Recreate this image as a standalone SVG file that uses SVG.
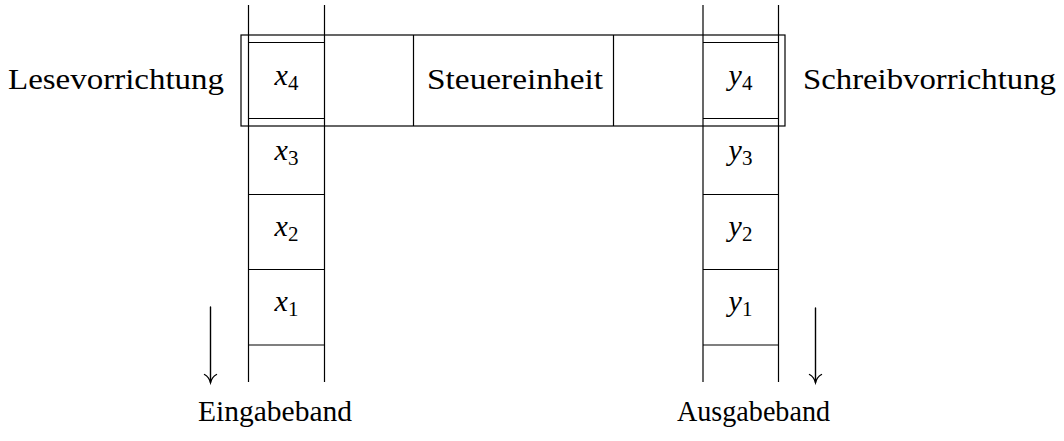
<svg xmlns="http://www.w3.org/2000/svg" width="1064" height="441" viewBox="0 0 1064 441">
<style>
.ln{stroke:#000;stroke-width:1.2;fill:none}
.t{font-family:'Liberation Serif','LiberationSerif','Times New Roman',Times,'DejaVu Serif','Noto Serif',serif;font-size:30px;fill:#000}
.m{font-family:'Liberation Serif','LiberationSerif','Times New Roman',Times,'DejaVu Serif','Noto Serif',serif;font-size:30px;fill:#000;text-anchor:middle}
.i{font-style:italic}
.s{font-size:21px;font-style:normal}
.ar{stroke:#000;stroke-width:1.4;fill:none;stroke-linecap:round}
</style>
<rect width="1064" height="441" fill="#fff"/>
<g id="tapes">
  <g id="eingabeband">
    <line class="ln" x1="248.5" y1="5" x2="248.5" y2="382"/>
    <line class="ln" x1="324.5" y1="5" x2="324.5" y2="382"/>
    <line class="ln" x1="248.5" y1="42.5" x2="324.5" y2="42.5"/>
    <line class="ln" x1="248.5" y1="118.5" x2="324.5" y2="118.5"/>
    <line class="ln" x1="248.5" y1="194.5" x2="324.5" y2="194.5"/>
    <line class="ln" x1="248.5" y1="269.5" x2="324.5" y2="269.5"/>
    <line class="ln" x1="248.5" y1="345" x2="324.5" y2="345"/>
  </g>
  <g id="ausgabeband">
    <line class="ln" x1="703" y1="5" x2="703" y2="382"/>
    <line class="ln" x1="778.5" y1="5" x2="778.5" y2="382"/>
    <line class="ln" x1="703" y1="42.5" x2="778.5" y2="42.5"/>
    <line class="ln" x1="703" y1="118.5" x2="778.5" y2="118.5"/>
    <line class="ln" x1="703" y1="194.5" x2="778.5" y2="194.5"/>
    <line class="ln" x1="703" y1="269.5" x2="778.5" y2="269.5"/>
    <line class="ln" x1="703" y1="345" x2="778.5" y2="345"/>
  </g>
</g>
<g id="steuereinheit">
  <rect class="ln" x="241" y="35" width="544" height="91"/>
  <line class="ln" x1="413.5" y1="35" x2="413.5" y2="126"/>
  <line class="ln" x1="613.5" y1="35" x2="613.5" y2="126"/>
  <text class="t" x="427" y="89" textLength="176" lengthAdjust="spacingAndGlyphs">Steuereinheit</text>
</g>
<g id="cells">
  <text id="x4" class="m" x="286.5" y="85"><tspan class="i">x</tspan><tspan class="s" dy="5">4</tspan></text>
  <text id="x3" class="m" x="286.5" y="160"><tspan class="i">x</tspan><tspan class="s" dy="5">3</tspan></text>
  <text id="x2" class="m" x="286.5" y="236"><tspan class="i">x</tspan><tspan class="s" dy="5">2</tspan></text>
  <text id="x1" class="m" x="286.5" y="311"><tspan class="i">x</tspan><tspan class="s" dy="5">1</tspan></text>
  <text id="y4" class="m" x="740.5" y="85"><tspan class="i">y</tspan><tspan class="s" dy="5">4</tspan></text>
  <text id="y3" class="m" x="740.5" y="160"><tspan class="i">y</tspan><tspan class="s" dy="5">3</tspan></text>
  <text id="y2" class="m" x="740.5" y="236"><tspan class="i">y</tspan><tspan class="s" dy="5">2</tspan></text>
  <text id="y1" class="m" x="740.5" y="311"><tspan class="i">y</tspan><tspan class="s" dy="5">1</tspan></text>
</g>
<g id="labels">
  <text id="lesevorrichtung" class="t" x="8" y="89" textLength="216" lengthAdjust="spacingAndGlyphs">Lesevorrichtung</text>
  <text id="schreibvorrichtung" class="t" x="803" y="89" textLength="253" lengthAdjust="spacingAndGlyphs">Schreibvorrichtung</text>
  <text id="eingabeband-label" class="t" x="198" y="421" textLength="154" lengthAdjust="spacingAndGlyphs">Eingabeband</text>
  <text id="ausgabeband-label" class="t" x="677" y="421" textLength="153" lengthAdjust="spacingAndGlyphs">Ausgabeband</text>
</g>
<g id="connectors">
  <line class="ar" x1="210.5" y1="307" x2="210.5" y2="382.5"/>
  <path class="ar" d="M204.5 374.5 Q209 377 210.5 382.5 Q212 377 216.5 374.5"/>
  <line class="ar" x1="815.5" y1="308" x2="815.5" y2="382.5"/>
  <path class="ar" d="M809.5 374.5 Q814 377 815.5 382.5 Q817 377 821.5 374.5"/>
</g>
</svg>
